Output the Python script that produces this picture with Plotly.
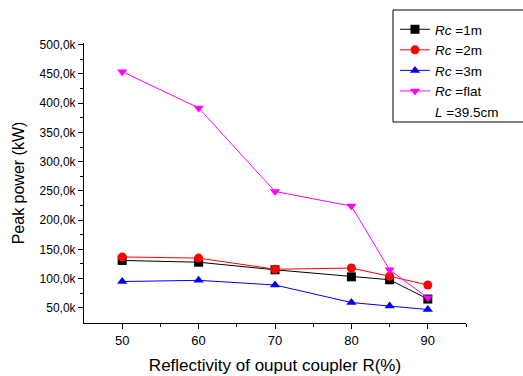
import plotly.graph_objects as go

R = [50, 60, 70, 80, 85, 90]
rc1 = [131, 128, 115, 103, 98, 65]
rc2 = [137, 135, 116, 118, 104, 89]
rc3 = [95, 97, 89, 59, 53, 47]
flat = [454, 392, 249, 224, 115, 67]

ytick_vals = [50, 100, 150, 200, 250, 300, 350, 400, 450, 500]
ytick_text = ["50,0k", "100,0k", "150,0k", "200,0k", "250,0k", "300,0k",
              "350,0k", "400,0k", "450,0k", "500,0k"]
xtick_vals = [50, 60, 70, 80, 90]

W, H = 523, 376
L, Rm, T, B = 84, 57, 43, 53
pw, ph = W - L - Rm, H - T - B

fig = go.Figure()
series = [
    ("<i>Rc</i> =1m", rc1, "black", "square"),
    ("<i>Rc</i> =2m", rc2, "red", "circle"),
    ("<i>Rc</i> =3m", rc3, "blue", "triangle-up"),
    ("<i>Rc</i> =flat", flat, "magenta", "triangle-down"),
]
for name, ys, col, sym in series:
    fig.add_trace(go.Scatter(x=R, y=ys, name=name, mode="lines+markers",
                             line=dict(color=col, width=1),
                             marker=dict(color=col, symbol=sym, size=9)))
fig.add_trace(go.Scatter(x=[None], y=[None], name="<i>L</i> =39.5cm", mode="lines",
                         line=dict(color="rgba(0,0,0,0)", width=0)))

def px_x(p):
    return (p - L) / pw

def px_y(p):
    return (H - B - p) / ph

fig.add_shape(type="rect", xref="paper", yref="paper",
              x0=px_x(393), x1=px_x(540), y0=px_y(122), y1=px_y(10),
              line=dict(color="black", width=1), fillcolor="rgba(0,0,0,0)")

fig.update_layout(
    width=W, height=H,
    margin=dict(l=L, r=Rm, t=T, b=B, autoexpand=False),
    paper_bgcolor="white", plot_bgcolor="white",
    font=dict(family="Liberation Sans, Arial", size=12, color="black"),
    showlegend=True,
    legend=dict(x=px_x(395), y=px_y(14), xanchor="left", yanchor="top",
                borderwidth=0, bgcolor="rgba(0,0,0,0)",
                font=dict(size=13.5), itemwidth=30, tracegroupgap=0),
    xaxis=dict(range=[45, 95], tickvals=xtick_vals, ticks="outside", ticklen=5,
               tickwidth=1, tickcolor="black", showline=True, linecolor="black",
               linewidth=1, showgrid=False, zeroline=False, automargin=False,
               minor=dict(tickvals=[55, 65, 75, 85, 95], ticks="outside", ticklen=3,
                          tickcolor="black", showgrid=False),
               tickfont=dict(size=13),
               title=dict(text="Reflectivity of ouput coupler R(%)", font=dict(size=17),
                          standoff=12)),
    yaxis=dict(range=[24, 503], tickvals=ytick_vals, ticktext=ytick_text,
               ticks="outside", ticklen=5, tickwidth=1, tickcolor="black",
               showline=True, linecolor="black", linewidth=1, showgrid=False,
               zeroline=False, automargin=False,
               minor=dict(tickvals=[75, 125, 175, 225, 275, 325, 375, 425, 475],
                          ticks="outside", ticklen=3, tickcolor="black", showgrid=False),
               title=dict(text="Peak power (kW)", font=dict(size=16), standoff=10)),
)

fig.write_html("out.html")
